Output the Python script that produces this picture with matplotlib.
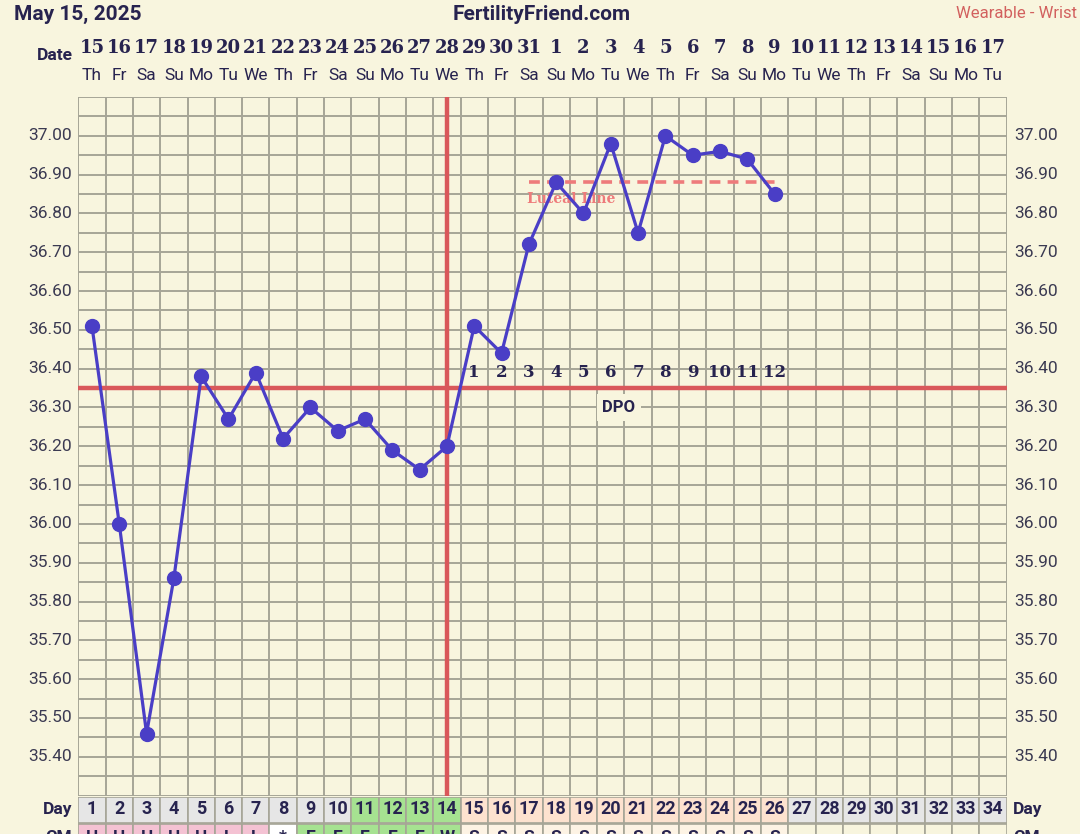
import matplotlib
matplotlib.use("Agg")
import matplotlib.pyplot as plt
import matplotlib.transforms as mtransforms
from matplotlib.patches import Rectangle

# ---------------- data ----------------
dates = ["15","16","17","18","19","20","21","22","23","24","25","26","27","28","29","30","31",
         "1","2","3","4","5","6","7","8","9","10","11","12","13","14","15","16","17"]
weekdays = ["Th","Fr","Sa","Su","Mo","Tu","We","Th","Fr","Sa","Su","Mo","Tu","We","Th","Fr","Sa",
            "Su","Mo","Tu","We","Th","Fr","Sa","Su","Mo","Tu","We","Th","Fr","Sa","Su","Mo","Tu"]
cycle_days = list(range(1, 35))
temps = [36.51, 36.00, 35.46, 35.86, 36.38, 36.27, 36.39, 36.22, 36.30, 36.24, 36.27, 36.19,
         36.14, 36.20, 36.51, 36.44, 36.72, 36.88, 36.80, 36.98, 36.75, 37.00, 36.95, 36.96,
         36.94, 36.85]
temp_days = list(range(1, len(temps) + 1))
coverline = 36.35
ovulation_day = 14
luteal_level = 36.88
luteal_start, luteal_end = 17, 26
dpo_labels = [str(i) for i in range(1, 13)]
dpo_days = list(range(15, 27))
cm_codes = ["H","H","H","H","H","L","L","*","E","E","E","E","E","W",
            "S","S","S","S","S","S","S","S","S","S","S","S"] + [""] * 8
yticks = [round(35.40 + 0.1 * i, 2) for i in range(17)]

# ---------------- style ----------------
BG = "#f8f5de"
GRID = "#a6a597"
LINE = "#4a3ec6"
RED = "#d9585a"
NAVY = "#27234f"
SALMON = "#ee7b7b"

W, H = 1080, 834
fig = plt.figure(figsize=(W / 100, H / 100), dpi=100, facecolor=BG)

def fx(px): return px / W
def fy(py): return 1 - py / H

left_px, right_px = 78.3, 1006.7
top_px, bot_px = 97.0, 795.6
ax = fig.add_axes([fx(left_px), fy(bot_px), fx(right_px - left_px), (bot_px - top_px) / H])
ax.set_facecolor(BG)
ax.set_xlim(0.5, 34.5)
ax.set_ylim(35.30, 37.10)

# grid
for i in range(35):
    ax.axvline(0.5 + i, color=GRID, lw=1.4, zorder=1)
for j in range(37):
    ax.axhline(35.30 + 0.05 * j, color=GRID, lw=1.4, zorder=1)
for s in ax.spines.values():
    s.set_visible(False)
ax.set_xticks([])
ax.set_yticks([])

# y tick labels both sides
ytrans_l = mtransforms.blended_transform_factory(fig.transFigure, ax.transData)
for v in yticks:
    ax.text(fx(72), v, f"{v:.2f}", transform=ytrans_l, ha="right", va="center",
            fontsize=12.5, color="#3b3a52", family="Roboto")
    ax.text(fx(1014), v, f"{v:.2f}", transform=ytrans_l, ha="left", va="center",
            fontsize=12.5, color="#3b3a52", family="Roboto")

# coverline and ovulation line
ax.axhline(coverline, color=RED, lw=3.2, zorder=3)
ax.axvline(ovulation_day, color=RED, lw=3.2, zorder=3)

# luteal line
ax.plot([luteal_start, luteal_end], [luteal_level, luteal_level], color=SALMON, lw=2.6,
        dashes=(3, 2), zorder=3)
ax.text(luteal_start - 0.05, luteal_level - 0.042, "Luteal Line", color=SALMON, fontsize=10,
        fontweight="bold", family="DejaVu Serif", ha="left", va="center", zorder=3)

# temperature line
ax.plot(temp_days, temps, color=LINE, lw=2.3, marker="o", markersize=10, zorder=5)

# DPO labels
for d, lab in zip(dpo_days, dpo_labels):
    ax.text(d, 36.39, lab, ha="center", va="center", fontsize=12, fontweight="bold",
            family="DejaVu Serif", color=NAVY, zorder=4)
ax.text(20.3, 36.30, "DPO", ha="center", va="center", fontsize=12, fontweight="bold",
        family="Roboto", color=NAVY, zorder=4,
        bbox=dict(boxstyle="square,pad=0.35", fc=BG, ec="none"))

# header texts
fig.text(fx(14), fy(14), "May 15, 2025", ha="left", va="center", fontsize=15,
         fontweight="bold", family="Roboto", color=NAVY)
fig.text(fx(542), fy(14), "FertilityFriend.com", ha="center", va="center", fontsize=15,
         fontweight="bold", family="Roboto", color=NAVY)
fig.text(fx(1077), fy(13), "Wearable - Wrist", ha="right", va="center", fontsize=12,
         family="Roboto", color="#d2605e")
fig.text(fx(73), fy(55), "Date", ha="right", va="center", fontsize=12.5,
         fontweight="bold", family="Roboto", color=NAVY)

xtrans = mtransforms.blended_transform_factory(ax.transData, fig.transFigure)
for d, ds, wd in zip(cycle_days, dates, weekdays):
    ax.text(d, fy(48), ds, transform=xtrans, ha="center", va="center", fontsize=13,
            fontweight="bold", family="DejaVu Serif", color=NAVY, clip_on=False)
    ax.text(d, fy(75), wd, transform=xtrans, ha="center", va="center", fontsize=12.5,
            family="Roboto", color=NAVY, clip_on=False)

# ---------------- bottom rows ----------------
row_top = 796.5
ax2 = fig.add_axes([fx(left_px), 0, fx(right_px - left_px), (H - row_top) / H])
ax2.set_xlim(0.5, 34.5)
ax2.set_ylim(H - row_top, 0)
ax2.axis("off")
ax2.set_facecolor("none")

def day_color(d):
    if 11 <= d <= 14:
        return "#a6e291"
    if 15 <= d <= 26:
        return "#fde2cf"
    return "#e6e6e6"

def cm_color(c):
    if c in ("H", "L"):
        return "#f4c2d3"
    if c == "*":
        return "#ffffff"
    if c in ("E", "W"):
        return "#a6e291"
    if c == "S":
        return "#fdf3e4"
    return BG

for d, code in zip(cycle_days, cm_codes):
    ax2.add_patch(Rectangle((d - 0.5, 0), 1, 26, fc=day_color(d), ec=GRID, lw=1.2))
    ax2.text(d, 13, str(d), ha="center", va="center", fontsize=13, fontweight="bold",
             family="Roboto", color=NAVY)
    ax2.add_patch(Rectangle((d - 0.5, 27.5), 1, 26, fc=cm_color(code), ec=GRID, lw=1.2))
    if code:
        ax2.text(d, 41, code, ha="center", va="center", fontsize=12.5, fontweight="bold",
                 family="Roboto", color=NAVY)

fig.text(fx(72), fy(809.5), "Day", ha="right", va="center", fontsize=12.5,
         fontweight="bold", family="Roboto", color=NAVY)
fig.text(fx(1013), fy(809.5), "Day", ha="left", va="center", fontsize=12.5,
         fontweight="bold", family="Roboto", color=NAVY)
fig.text(fx(72), fy(838), "CM", ha="right", va="center", fontsize=12.5,
         fontweight="bold", family="Roboto", color=NAVY)
fig.text(fx(1013), fy(838), "CM", ha="left", va="center", fontsize=12.5,
         fontweight="bold", family="Roboto", color=NAVY)

fig.savefig("out.png", dpi=100, facecolor=BG)
